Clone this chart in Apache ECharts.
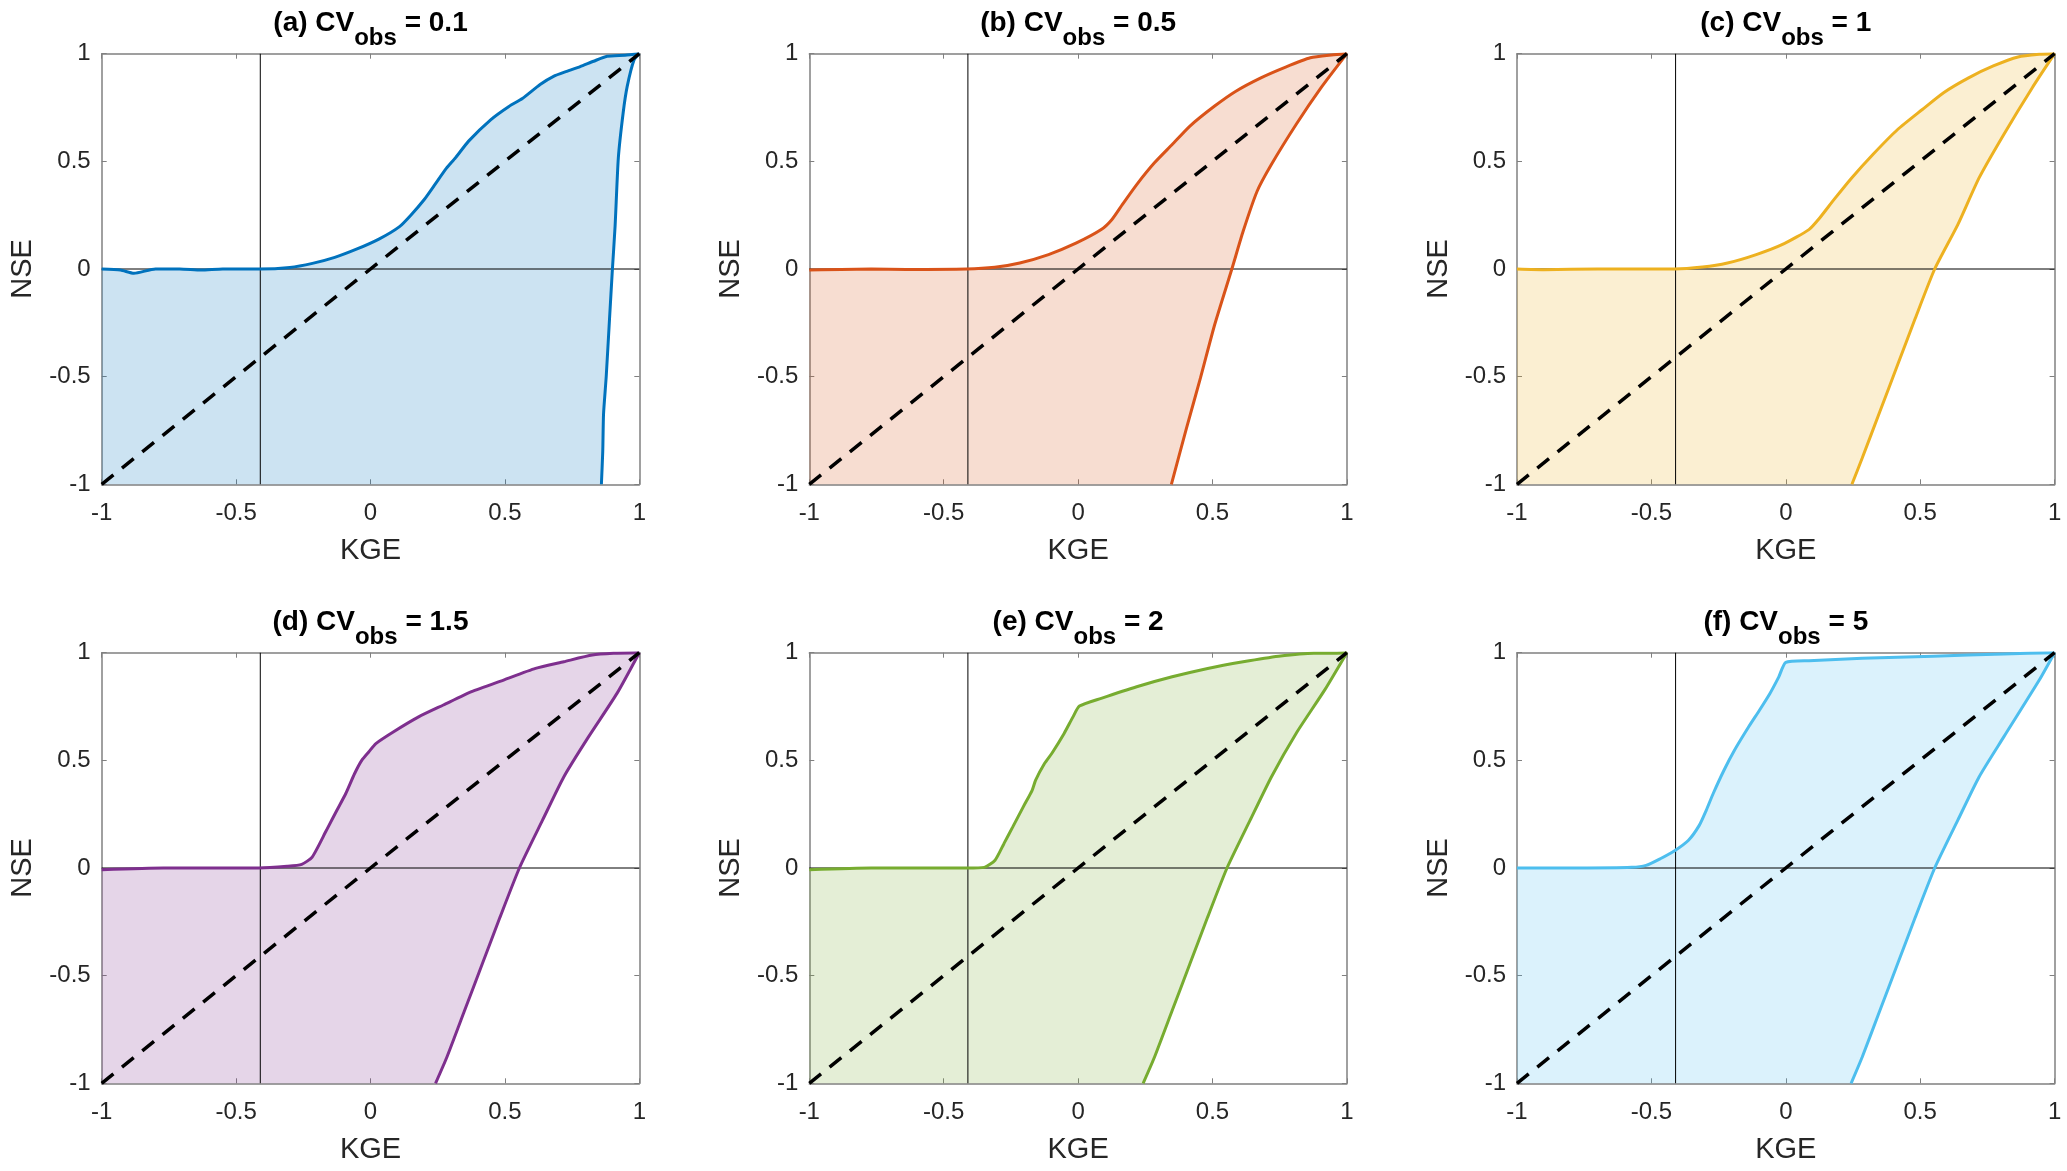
<!DOCTYPE html>
<html>
<head>
<meta charset="utf-8">
<script src="https://cdn.jsdelivr.net/npm/echarts@6/dist/echarts.min.js"></script>
<style>
html, body { margin: 0; padding: 0; background: #ffffff; }
#chart { width: 2067px; height: 1171px; }
</style>
</head>
<body>
<div id="chart"></div>
<script>
// ---------- data ----------
const panelLabels = ['(a)', '(b)', '(c)', '(d)', '(e)', '(f)'];
const cvObs = ['0.1', '0.5', '1', '1.5', '2', '5'];
const lineColors = ['#0072BD', '#D95319', '#EDB120', '#7E2F8E', '#77AC30', '#4DBEEE'];
const fillColors = ['rgba(0,114,189,0.2)', 'rgba(217,83,25,0.2)', 'rgba(237,177,32,0.2)',
                    'rgba(126,47,142,0.2)', 'rgba(119,172,48,0.2)', 'rgba(77,190,238,0.2)'];
const kgeBenchmark = -0.41;
const oneToOne = [[-1, -1], [1, 1]];

// upper (max NSE) envelopes, [KGE, NSE], KGE increasing
const upperA = [[-1,0],[-0.93,-0.005],[-0.88,-0.02],[-0.8,0],[-0.71,0],[-0.63,-0.005],[-0.55,0],[-0.415,0],[-0.3,0.007],[-0.216,0.026],[-0.133,0.054],[-0.05,0.093],[0.033,0.14],[0.108,0.197],[0.15,0.25],[0.2,0.323],[0.24,0.393],[0.282,0.467],[0.316,0.516],[0.365,0.594],[0.448,0.694],[0.515,0.755],[0.565,0.792],[0.631,0.857],[0.681,0.895],[0.73,0.918],[0.78,0.94],[0.83,0.965],[0.88,0.988],[0.947,0.993],[1,1]];
const upperB = [[-1,-0.005],[-0.77,0],[-0.64,-0.002],[-0.415,0],[-0.31,0.008],[-0.217,0.028],[-0.11,0.067],[-0.006,0.121],[0.086,0.183],[0.126,0.23],[0.165,0.3],[0.218,0.392],[0.284,0.493],[0.35,0.578],[0.416,0.664],[0.508,0.757],[0.587,0.826],[0.68,0.888],[0.772,0.938],[0.864,0.981],[0.943,0.994],[1,1]];
const upperC = [[-1,0],[-0.9,-0.003],[-0.7,0],[-0.415,0],[-0.31,0.009],[-0.217,0.028],[-0.11,0.067],[-0.006,0.118],[0.086,0.183],[0.126,0.237],[0.179,0.322],[0.245,0.423],[0.324,0.532],[0.416,0.648],[0.508,0.741],[0.587,0.819],[0.68,0.888],[0.772,0.943],[0.864,0.985],[0.943,0.997],[1,1]];
const upperD = [[-1,-0.008],[-0.77,0],[-0.415,0],[-0.31,0.008],[-0.256,0.017],[-0.217,0.051],[-0.164,0.175],[-0.125,0.268],[-0.092,0.346],[-0.059,0.439],[-0.032,0.501],[-0.006,0.54],[0.02,0.578],[0.086,0.633],[0.179,0.702],[0.271,0.757],[0.376,0.819],[0.495,0.873],[0.614,0.927],[0.719,0.958],[0.825,0.989],[0.904,0.997],[1,1]];
const upperE = [[-1,-0.008],[-0.77,0],[-0.415,0],[-0.349,0.003],[-0.309,0.036],[-0.276,0.113],[-0.243,0.191],[-0.204,0.284],[-0.171,0.361],[-0.158,0.408],[-0.125,0.485],[-0.098,0.532],[-0.052,0.625],[-0.019,0.702],[0.005,0.752],[0.086,0.788],[0.218,0.842],[0.35,0.888],[0.482,0.927],[0.614,0.958],[0.746,0.984],[0.877,0.998],[0.957,0.998],[1,1]];
const upperF = [[-1,0],[-0.77,0],[-0.573,0.003],[-0.52,0.012],[-0.467,0.043],[-0.415,0.079],[-0.362,0.129],[-0.322,0.198],[-0.296,0.268],[-0.27,0.346],[-0.23,0.454],[-0.191,0.547],[-0.138,0.656],[-0.098,0.733],[-0.059,0.811],[-0.026,0.888],[0,0.955],[0.086,0.963],[0.284,0.974],[0.548,0.984],[0.811,0.994],[1,1]];

// lower (min NSE) envelopes, [KGE, NSE], KGE increasing
const lowerA = [[0.859,-1],[0.864,-0.848],[0.867,-0.673],[0.877,-0.498],[0.889,-0.236],[0.9,0],[0.91,0.2],[0.922,0.516],[0.94,0.726],[0.955,0.848],[0.98,0.97],[1,1]];
const lowerB = [[0.347,-1],[0.403,-0.74],[0.455,-0.507],[0.508,-0.259],[0.572,0],[0.614,0.175],[0.666,0.361],[0.719,0.485],[0.811,0.671],[0.904,0.842],[1,1]];
const lowerC = [[0.246,-1],[0.284,-0.879],[0.35,-0.662],[0.416,-0.445],[0.482,-0.228],[0.554,0],[0.64,0.206],[0.719,0.423],[0.811,0.625],[0.917,0.842],[1,1]];
const lowerD = [[0.242,-1],[0.284,-0.879],[0.35,-0.662],[0.416,-0.445],[0.482,-0.228],[0.554,0],[0.64,0.222],[0.719,0.423],[0.811,0.609],[0.917,0.811],[1,1]];
const lowerE = [[0.242,-1],[0.284,-0.879],[0.35,-0.662],[0.416,-0.445],[0.482,-0.228],[0.554,0],[0.64,0.222],[0.719,0.423],[0.811,0.625],[0.917,0.826],[1,1]];
const lowerF = [[0.243,-1],[0.284,-0.879],[0.35,-0.662],[0.416,-0.445],[0.482,-0.228],[0.554,0],[0.64,0.222],[0.719,0.423],[0.811,0.609],[0.943,0.873],[1,1]];

const uppers = [upperA, upperB, upperC, upperD, upperE, upperF];
const lowers = [lowerA, lowerB, lowerC, lowerD, lowerE, lowerF];

// ---------- layout ----------
const FONT = "'Liberation Sans', Arial, sans-serif";
const colLeft = [101.7, 809.3, 1517];
const rowTop = [53.7, 652.7];
const gridW = 537.6, gridH = 430.6;
const axisGrey = '#808080';
const textDark = '#262626';

const grids = [], xAxes = [], yAxes = [], titles = [], series = [];

for (let i = 0; i < 6; i++) {
  const r = Math.floor(i / 3), c = i % 3;
  grids.push({ left: colLeft[c], top: rowTop[r], width: gridW, height: gridH, containLabel: false });

  const common = {
    gridIndex: i, type: 'value', min: -1, max: 1, interval: 0.5,
    splitLine: { show: false },
    axisLine: { show: true, onZero: false, lineStyle: { color: axisGrey, width: 1.5 } },
    axisTick: { show: true, inside: true, length: 5, lineStyle: { color: axisGrey, width: 1 } }
  };
  xAxes.push(Object.assign({}, common, {
    position: 'bottom', name: 'KGE', nameLocation: 'middle', nameGap: 52,
    nameTextStyle: { fontSize: 29, color: textDark, fontFamily: FONT },
    axisLabel: { fontSize: 24, color: textDark, margin: 17, fontFamily: FONT }
  }));
  xAxes.push(Object.assign({}, common, { position: 'top', axisLabel: { show: false } }));
  yAxes.push(Object.assign({}, common, {
    position: 'left', name: 'NSE', nameLocation: 'middle', nameGap: 64,
    nameTextStyle: { fontSize: 29, color: textDark, fontFamily: FONT },
    axisLabel: { fontSize: 24, color: textDark, margin: 11, fontFamily: FONT }
  }));
  yAxes.push(Object.assign({}, common, { position: 'right', axisLabel: { show: false } }));

  titles.push({
    text: '{m|' + panelLabels[i] + ' CV}{s|obs}{m| = ' + cvObs[i] + '}',
    left: colLeft[c] + gridW / 2,
    top: rowTop[r] - 58,
    textAlign: 'center',
    padding: 0,
    textStyle: {
      fontFamily: FONT, fontWeight: 'bold', color: '#000',
      rich: {
        m: { fontSize: 28, fontWeight: 'bold', color: '#000', fontFamily: FONT },
        s: { fontSize: 24, fontWeight: 'bold', color: '#000', fontFamily: FONT, padding: [31, 0, 0, 0] }
      }
    }
  });

  const xi = 2 * i, yi = 2 * i;
  const poly = uppers[i].concat(lowers[i].slice().reverse()).concat([[-1, -1]]);
  const fill = fillColors[i];

  series.push({
    type: 'custom', xAxisIndex: xi, yAxisIndex: yi, z: 1, silent: true,
    data: poly,
    encode: { x: 0, y: 1 },
    renderItem: function (params, api) {
      if (params.dataIndex !== 0) return null;
      return {
        type: 'polygon',
        shape: { points: poly.map(p => api.coord(p)) },
        style: { fill: fill, stroke: null }
      };
    }
  });
  const lineBase = { type: 'line', xAxisIndex: xi, yAxisIndex: yi, symbol: 'none', silent: true, animation: false };
  series.push(Object.assign({}, lineBase, { z: 2, data: [[kgeBenchmark, -1], [kgeBenchmark, 1]], lineStyle: { color: '#000', width: 1 } }));
  series.push(Object.assign({}, lineBase, { z: 2, data: [[-1, 0], [1, 0]], lineStyle: { color: '#000', width: 1 } }));
  series.push(Object.assign({}, lineBase, { z: 3, data: uppers[i], smooth: 0.2, lineStyle: { color: lineColors[i], width: 3 } }));
  series.push(Object.assign({}, lineBase, { z: 3, data: lowers[i], smooth: 0.2, lineStyle: { color: lineColors[i], width: 3 } }));
  series.push(Object.assign({}, lineBase, { z: 4, data: oneToOne, lineStyle: { color: '#000', width: 3.5, type: [15, 11] } }));
}

const chart = echarts.init(document.getElementById('chart'), null, { renderer: 'canvas' });
chart.setOption({
  animation: false,
  backgroundColor: '#ffffff',
  title: titles,
  grid: grids,
  xAxis: xAxes,
  yAxis: yAxes,
  series: series
});
</script>
</body>
</html>
